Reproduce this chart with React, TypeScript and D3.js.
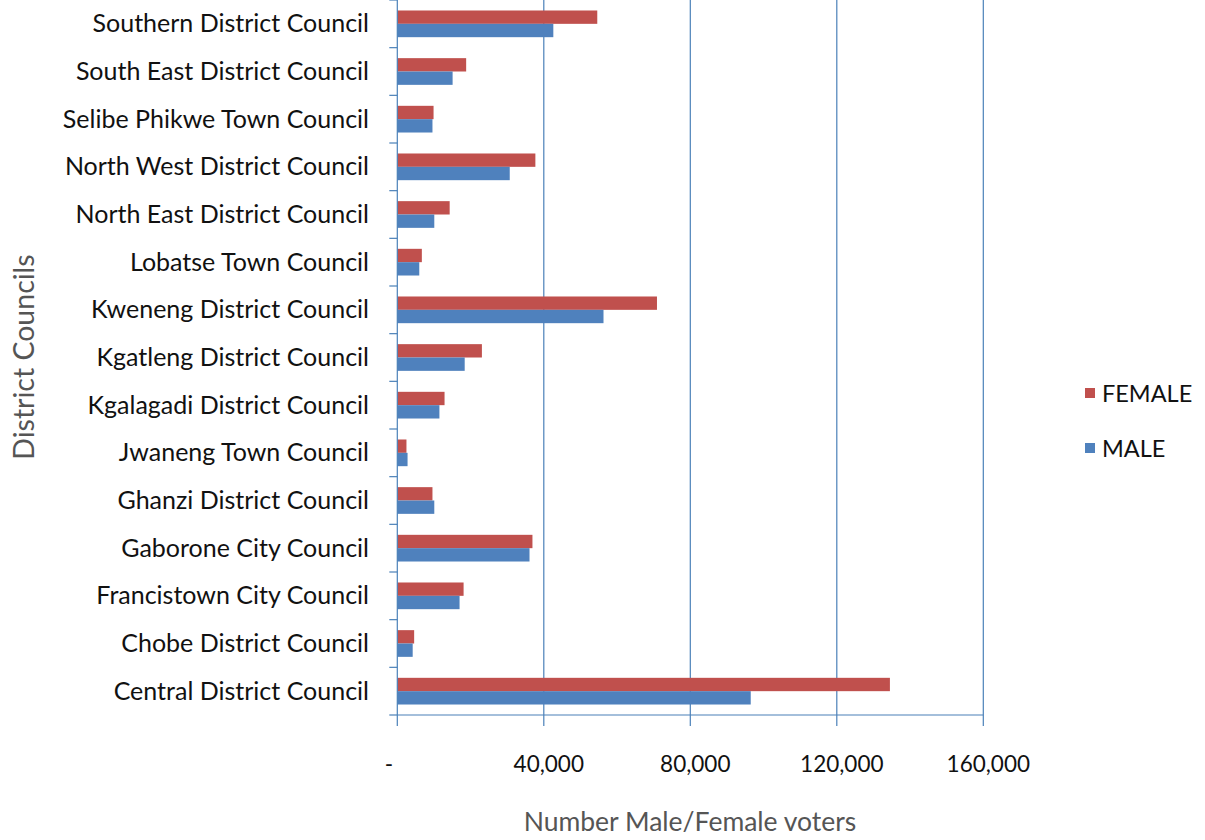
import React from "react";
import * as d3 from "d3";

const categories = [
  "Southern District Council",
  "South East District Council",
  "Selibe Phikwe Town Council",
  "North West District Council",
  "North East District Council",
  "Lobatse Town Council",
  "Kweneng District Council",
  "Kgatleng District Council",
  "Kgalagadi District Council",
  "Jwaneng Town Council",
  "Ghanzi District Council",
  "Gaborone City Council",
  "Francistown City Council",
  "Chobe District Council",
  "Central District Council",
];

const female = [54600, 18800, 9900, 37700, 14300, 6700, 70900, 23100, 12900, 2500, 9600, 36900, 18100, 4600, 134500];
const male = [42600, 15100, 9600, 30700, 10100, 6000, 56300, 18400, 11500, 2800, 10100, 36100, 17000, 4200, 96500];

const xTicks = [0, 40000, 80000, 120000, 160000];
const seriesNames = ["FEMALE", "MALE"];
const seriesColors = ["#C0504D", "#4F81BD"];

const W = 1205;
const H = 840;
const plotLeft = 397.3;
const plotRight = 983.3;
const plotTop = 0;
const plotBottom = 715;
const FONT = "Lato, 'Open Sans', sans-serif";
const AXIS = "#4A80B8";

export default function App() {
  const x = d3.scaleLinear().domain([0, 160000]).range([plotLeft, plotRight]);
  const y = d3.scaleBand<string>().domain(categories).range([plotTop, plotBottom]).paddingInner(0).paddingOuter(0);
  const bandH = y.bandwidth();
  const barH = bandH * 0.28;
  const offset = (bandH - 2 * barH) / 2;
  const fmt = (v: number) => (v === 0 ? "-" : d3.format(",")(v));
  const boundaries = d3.range(categories.length + 1).map((i) => plotTop + i * bandH);

  return (
    <svg width={W} height={H} style={{ position: "absolute", left: 0, top: 0, background: "#fff" }}>
      {/* gridlines */}
      {xTicks.slice(1).map((t) => (
        <line key={"g" + t} x1={x(t)} x2={x(t)} y1={plotTop} y2={plotBottom} stroke={AXIS} strokeWidth={1.2} />
      ))}
      {/* bars */}
      {categories.map((c, i) => (
        <g key={c}>
          <rect x={x(0)} y={(y(c) as number) + offset} width={x(female[i]) - x(0)} height={barH} fill={seriesColors[0]} />
          <rect x={x(0)} y={(y(c) as number) + offset + barH} width={x(male[i]) - x(0)} height={barH} fill={seriesColors[1]} />
        </g>
      ))}
      {/* axes */}
      <line x1={plotLeft} x2={plotLeft} y1={plotTop} y2={plotBottom} stroke={AXIS} strokeWidth={1.2} />
      <line x1={plotLeft} x2={plotRight} y1={plotBottom} y2={plotBottom} stroke={AXIS} strokeWidth={1.2} />
      {boundaries.map((b, i) => (
        <line key={"yt" + i} x1={plotLeft - 8} x2={plotLeft} y1={b} y2={b} stroke={AXIS} strokeWidth={1.2} />
      ))}
      {xTicks.map((t) => (
        <line key={"xt" + t} x1={x(t)} x2={x(t)} y1={plotBottom} y2={plotBottom + 11} stroke={AXIS} strokeWidth={1.2} />
      ))}
      {/* category labels */}
      {categories.map((c) => (
        <text key={"l" + c} x={369} y={(y(c) as number) + bandH / 2 + 8.5} textAnchor="end" fontFamily={FONT} fontSize={25} fill="#111">
          {c}
        </text>
      ))}
      {/* x tick labels */}
      {xTicks.map((t) => (
        <text key={"xl" + t} x={t === 0 ? 389 : x(t) + 5} y={772} textAnchor="middle" fontFamily={FONT} fontSize={22.5} fill="#111">
          {fmt(t)}
        </text>
      ))}
      {/* axis titles */}
      <text x={690} y={831} textAnchor="middle" fontFamily={FONT} fontSize={26.5} fill="#555">
        Number Male/Female voters
      </text>
      <text transform="translate(34,357) rotate(-90)" textAnchor="middle" fontFamily={FONT} fontSize={28.5} fill="#555">
        District Councils
      </text>
      {/* legend */}
      {seriesNames.map((s, i) => (
        <g key={s}>
          <rect x={1085} y={388 + i * 55} width={10} height={10} fill={seriesColors[i]} />
          <text x={1102} y={402 + i * 55} fontFamily={FONT} fontSize={23.5} fill="#111">
            {s}
          </text>
        </g>
      ))}
    </svg>
  );
}
